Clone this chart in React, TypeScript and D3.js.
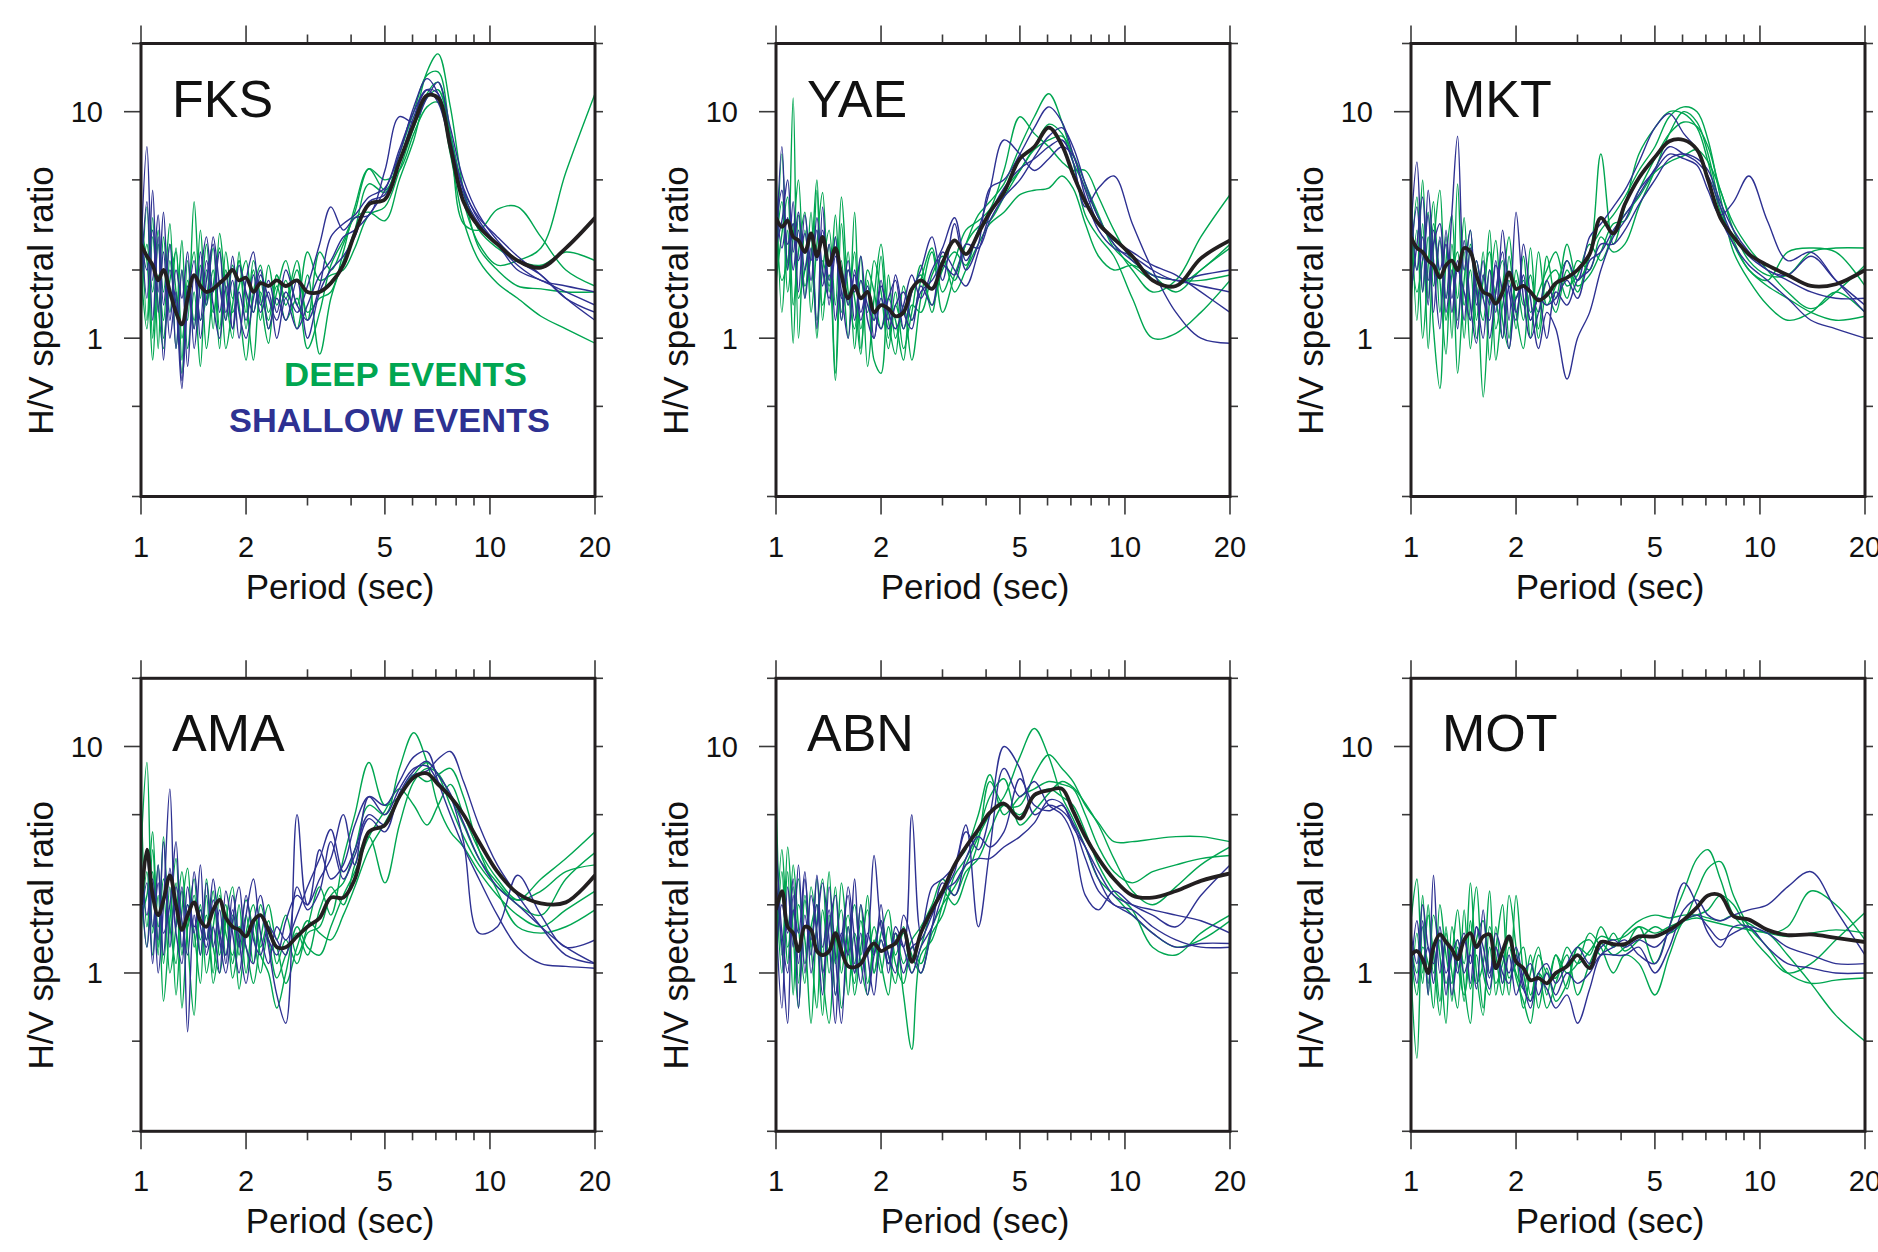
import React from 'react';
import * as d3 from 'd3';

// Shared period grid (sec) on which every curve is sampled
const PERIODS = [
  1.0, 1.04, 1.08, 1.12, 1.16, 1.21, 1.26, 1.31, 1.36, 1.42, 1.48, 1.54, 1.61, 1.68, 1.75, 1.83, 1.91, 2.0, 2.1, 2.2, 2.32, 2.45,
  2.6, 2.8, 3.0, 3.25, 3.5, 3.8,
  4.1, 4.5, 5.0, 5.5, 6.05, 6.6, 7.1, 7.7, 8.4, 9.3, 10.5, 12.0, 14.0, 16.5, 20.0,
];

const X_MAJOR = [1, 2, 5, 10, 20];
const X_MINOR = [3, 4, 6, 7, 8, 9];
const Y_LABELED = [1, 10];
const Y_OTHER = [0.2, 0.5, 2, 5, 20];

const STATIONS = ['FKS', 'YAE', 'MKT', 'AMA', 'ABN', 'MOT'];
const LEGEND_LABELS = ['DEEP EVENTS', 'SHALLOW EVENTS'];

// ---------- FKS ----------
const FKS_MEAN = [
  2.6, 2.3, 2.1, 1.8, 2.0, 1.6, 1.3, 1.15, 1.5, 1.9, 1.7, 1.6, 1.65, 1.75, 1.85, 2.0, 1.8, 1.85, 1.6, 1.75, 1.7, 1.8,
  1.7, 1.8, 1.6, 1.6, 1.75, 2.1,
  2.9, 3.9, 4.1, 6.0, 8.8, 11.8, 11.5, 7.0, 4.0, 3.1, 2.6, 2.2, 2.05, 2.5, 3.4,
];
const FKS_DEEP = [
  [4.5, 1.2, 3.4, 0.9, 2.8, 1.3, 2.5, 0.8, 2.2, 1.1, 3.0, 1.4, 2.0, 0.9, 2.4, 1.5, 2.2, 1.3, 2.0, 1.2, 2.1, 1.4,
   1.8, 1.1, 1.9, 0.85, 1.5, 2.2,
   3.0, 4.8, 4.4, 6.5, 10.0, 14.5, 15.0, 8.0, 4.0, 2.6, 2.1, 2.2, 2.5, 5.4, 12.0],
  [1.5, 3.8, 1.0, 2.6, 1.6, 3.2, 0.9, 2.0, 1.2, 4.0, 1.5, 2.6, 1.1, 2.9, 1.6, 1.0, 2.4, 1.1, 2.2, 1.5, 0.95, 1.9,
   1.4, 2.0, 1.2, 2.4, 2.0, 2.6,
   3.6, 5.6, 4.5, 6.0, 9.0, 15.0, 18.0, 10.5, 4.5, 2.5, 2.0, 1.7, 1.65, 1.6, 1.6],
  [3.0, 2.2, 0.8, 1.9, 1.2, 2.6, 1.6, 0.7, 1.8, 1.2, 2.1, 0.9, 1.7, 2.5, 1.2, 2.1, 1.4, 0.8, 1.6, 2.1, 1.3, 1.7,
   1.2, 1.5, 0.9, 1.3, 2.1, 2.7,
   3.4, 3.6, 3.3, 5.0, 7.5, 12.0, 13.5, 7.5, 3.2, 3.0, 3.7, 3.8, 2.8, 2.0, 1.7],
  [2.0, 1.1, 2.8, 1.4, 0.9, 2.2, 1.3, 2.7, 0.9, 1.6, 0.75, 2.0, 1.3, 1.8, 0.9, 1.4, 2.2, 1.5, 0.8, 1.6, 1.2, 1.9,
   1.5, 2.2, 1.3, 1.5, 1.6, 2.4,
   3.8, 5.6, 5.0, 5.5, 8.0, 10.5, 11.0, 6.5, 3.3, 2.2, 1.75, 1.5, 1.25, 1.1, 0.95],
  [1.2, 2.6, 1.6, 3.0, 1.0, 1.8, 2.4, 1.0, 1.6, 2.4, 1.2, 1.5, 2.5, 1.1, 2.0, 1.3, 1.7, 2.2, 1.3, 1.8, 1.1, 1.6,
   2.2, 1.4, 2.4, 1.8, 1.9, 2.0,
   2.5, 3.5, 3.8, 5.5, 8.5, 11.5, 12.5, 8.0, 4.5, 3.0, 2.5, 2.2, 2.1, 2.4, 2.2],
];
const FKS_SHALLOW = [
  [2.4, 7.0, 1.8, 3.5, 1.4, 2.6, 0.9, 2.0, 0.75, 1.9, 1.2, 2.2, 1.4, 1.0, 1.7, 1.1, 2.1, 1.6, 1.3, 1.9, 1.5, 1.2,
   1.6, 1.3, 1.7, 2.6, 3.8, 3.0,
   3.4, 3.5, 5.5, 9.5, 9.0, 11.5, 13.5, 8.5, 5.0, 3.5, 2.7, 2.2, 1.9, 1.5, 1.2],
  [3.2, 1.5, 4.5, 1.3, 2.4, 1.0, 1.6, 0.65, 1.4, 2.2, 1.0, 1.8, 2.6, 1.3, 1.9, 1.1, 1.6, 1.2, 1.9, 1.3, 1.6, 1.0,
   1.5, 1.1, 1.4, 1.9, 2.2, 2.8,
   3.0, 3.5, 4.5, 6.5, 10.5, 14.0, 12.0, 7.0, 4.3, 3.2, 2.6, 2.0, 1.8, 1.6, 1.4],
  [1.8, 4.0, 1.2, 2.8, 0.8, 2.0, 1.4, 0.6, 1.7, 1.1, 2.4, 1.4, 2.8, 1.7, 1.2, 2.3, 1.3, 1.0, 1.5, 2.0, 1.1, 1.5,
   1.2, 1.8, 1.0, 1.6, 2.0, 2.3,
   2.8, 4.0, 4.3, 6.0, 9.5, 12.5, 12.0, 7.5, 4.5, 3.4, 2.8, 2.3, 1.9, 1.5, 1.3],
  [2.8, 2.0, 3.0, 1.6, 3.6, 1.2, 2.0, 1.5, 2.4, 0.9, 1.8, 2.8, 1.6, 2.4, 1.3, 1.8, 1.0, 1.8, 2.4, 1.4, 1.8, 1.3,
   2.0, 1.4, 1.2, 1.7, 2.8, 3.2,
   3.5, 4.2, 4.6, 6.8, 10.0, 12.5, 11.0, 7.2, 4.6, 3.3, 2.6, 2.1, 1.8, 1.7, 1.6],
];

// ---------- YAE ----------
const YAE_MEAN = [
  3.4, 3.1, 3.3, 2.8, 2.7, 2.4, 2.9, 2.3, 2.8, 2.1, 2.5, 1.9, 1.5, 1.7, 1.5, 1.6, 1.3, 1.4, 1.35, 1.25, 1.3, 1.65,
  1.8, 1.65, 2.15, 2.7, 2.35, 2.9,
  3.6, 4.4, 6.2, 7.0, 8.5, 7.1, 5.3, 4.0, 3.2, 2.75, 2.3, 1.8, 1.7, 2.25, 2.7,
];
const YAE_DEEP = [
  [1.5, 6.5, 2.0, 11.5, 1.0, 3.0, 1.6, 4.5, 1.2, 2.6, 0.7, 3.2, 1.4, 2.4, 0.9, 1.8, 1.2, 2.3, 1.0, 1.6, 0.9, 1.3,
   2.1, 1.3, 2.2, 1.8, 2.6, 3.1,
   3.3, 4.2, 5.5, 7.0, 8.8, 8.0, 6.0, 4.6, 3.4, 2.6, 2.0, 1.6, 1.8, 2.8, 4.3],
  [6.0, 1.3, 3.0, 0.95, 3.5, 1.7, 2.3, 5.0, 1.4, 1.9, 0.65, 2.2, 1.0, 3.6, 1.1, 1.6, 0.8, 0.7, 1.9, 1.0, 1.4, 0.8,
   1.5, 2.4, 1.3, 1.9, 2.6, 3.5,
   4.0, 4.8, 7.0, 9.5, 12.0, 9.0, 6.0, 3.5, 2.8, 2.3, 1.5, 1.0, 1.05, 1.3, 1.8],
  [2.5, 4.0, 1.6, 2.8, 5.0, 1.5, 3.6, 1.2, 2.0, 3.0, 1.4, 4.2, 1.6, 1.1, 2.3, 0.75, 1.5, 2.6, 1.2, 0.85, 1.7, 1.2,
   1.8, 2.5, 1.6, 2.2, 3.0, 3.3,
   3.7, 5.5, 9.5, 8.0, 7.0, 6.0, 5.5, 5.5, 4.2, 3.0, 2.2, 1.9, 1.6, 2.0, 2.5],
  [1.8, 2.9, 4.2, 1.4, 2.4, 3.6, 1.3, 2.6, 4.4, 1.6, 2.8, 1.2, 2.0, 1.5, 0.85, 2.0, 1.6, 1.1, 1.5, 1.2, 0.8, 1.4,
   1.3, 1.9, 2.3, 1.6, 2.0, 2.6,
   3.2, 3.6, 4.3, 4.5, 4.6, 5.2, 4.6, 3.2, 2.3, 2.0, 2.1, 1.9, 1.8, 1.8, 1.9],
  [3.0, 1.8, 2.2, 3.2, 1.5, 2.0, 2.8, 1.0, 2.2, 1.7, 3.5, 1.3, 2.4, 0.9, 1.8, 1.3, 2.2, 1.6, 0.9, 1.4, 1.1, 1.6,
   1.9, 1.4, 2.0, 2.4, 2.1, 3.0,
   3.5, 4.5, 5.5, 6.8, 7.5, 7.8, 6.5, 4.8, 3.5, 2.5, 2.1, 1.8, 1.7, 2.0, 2.6],
];
const YAE_SHALLOW = [
  [2.2, 7.0, 2.0, 4.0, 1.6, 3.5, 2.2, 3.0, 1.7, 2.6, 1.2, 2.0, 1.4, 1.9, 1.2, 1.6, 1.3, 1.1, 1.5, 1.8, 1.1, 1.6,
   2.0, 2.8, 1.8, 3.2, 2.0, 2.6,
   4.6, 5.0, 6.5, 8.5, 10.5, 9.0, 6.5, 4.5, 3.2, 2.7, 2.4, 2.1, 1.9, 1.6, 1.3],
  [4.5, 2.5, 3.4, 2.0, 3.0, 1.5, 2.5, 1.1, 3.8, 1.4, 2.3, 1.6, 1.0, 2.0, 1.3, 1.7, 1.0, 1.5, 1.2, 1.9, 1.3, 1.1,
   1.7, 1.4, 2.4, 2.0, 1.7, 2.4,
   3.5, 4.6, 5.6, 6.2, 7.0, 7.5, 6.0, 3.8, 4.6, 5.2, 3.2, 2.0, 1.3, 1.0, 0.95],
  [3.0, 4.5, 2.6, 3.2, 2.2, 2.9, 1.8, 3.4, 2.0, 1.5, 2.8, 1.2, 2.0, 1.6, 2.3, 1.2, 1.0, 1.7, 1.3, 1.1, 1.4, 1.9,
   1.5, 2.0, 2.5, 3.4, 2.2, 3.0,
   4.5, 7.5, 6.5, 5.5, 6.2, 7.0, 6.4, 4.2, 3.0, 2.5, 2.3, 2.0, 1.8, 1.9, 2.0],
  [2.6, 3.3, 5.0, 2.4, 3.6, 2.0, 2.8, 2.2, 3.0, 1.8, 2.4, 1.5, 2.2, 1.2, 1.8, 1.4, 1.2, 1.8, 1.1, 1.4, 1.6, 1.2,
   1.6, 1.8, 2.1, 1.9, 2.6, 2.5,
   3.3, 4.2, 5.0, 6.3, 7.8, 8.5, 7.0, 4.8, 3.4, 2.6, 2.2, 1.9, 1.8, 1.7, 1.6],
];

// ---------- MKT ----------
const MKT_MEAN = [
  2.8, 2.5, 2.4, 2.2, 2.1, 1.85, 2.1, 2.2, 2.0, 2.5, 2.4, 1.9, 1.6, 1.55, 1.42, 1.6, 1.95, 1.65, 1.7, 1.6, 1.47, 1.55,
  1.75, 1.85, 2.0, 2.35, 3.4, 2.9,
  3.9, 5.1, 6.3, 7.4, 7.5, 6.8, 5.0, 3.4, 2.8, 2.35, 2.1, 1.9, 1.7, 1.73, 2.0,
];
const MKT_DEEP = [
  [5.0, 1.2, 3.2, 0.9, 2.5, 4.5, 1.5, 2.2, 0.7, 1.8, 3.0, 1.2, 2.4, 0.8, 1.6, 2.2, 1.0, 1.8, 1.2, 2.5, 1.0, 1.6,
   1.3, 2.0, 1.6, 2.4, 3.0, 3.5,
   4.2, 5.5, 7.0, 9.5, 10.5, 10.0, 7.5, 4.2, 2.4, 1.8, 1.4, 1.2, 1.3, 1.6, 1.3],
  [2.0, 4.2, 1.6, 2.8, 1.1, 0.6, 2.2, 3.5, 1.2, 2.4, 0.9, 1.7, 0.55, 1.5, 2.7, 1.2, 0.9, 2.0, 1.4, 1.9, 1.1, 2.3,
   1.5, 2.6, 1.8, 2.3, 6.5, 2.6,
   3.8, 6.5, 8.5, 10.0, 9.8, 8.5, 6.0, 3.6, 2.7, 2.0, 1.8, 2.4, 2.5, 2.4, 1.7],
  [3.5, 2.0, 5.0, 1.5, 3.2, 1.8, 0.85, 2.6, 1.5, 3.4, 1.2, 2.2, 1.5, 3.0, 1.1, 1.7, 2.8, 1.3, 0.9, 1.6, 1.3, 1.8,
   2.0, 1.5, 2.2, 2.0, 2.8, 2.4,
   2.6, 3.8, 5.5, 8.0, 10.0, 9.0, 6.5, 3.8, 2.6, 2.0, 1.7, 1.5, 1.3, 1.2, 1.25],
  [1.4, 3.0, 1.0, 2.1, 4.0, 1.3, 2.8, 1.0, 4.8, 1.4, 2.0, 1.0, 1.8, 2.4, 0.8, 1.4, 1.8, 1.1, 2.3, 1.3, 1.6, 2.0,
   2.4, 1.7, 1.9, 2.6, 2.2, 2.9,
   3.5, 4.2, 5.4, 6.0, 6.4, 6.8, 6.0, 4.5, 3.0, 2.2, 1.9, 1.9, 2.4, 2.5, 2.5],
  [2.6, 1.6, 2.2, 3.6, 1.7, 2.7, 1.2, 1.9, 2.4, 1.0, 2.6, 1.7, 1.2, 2.0, 1.5, 1.0, 2.3, 1.5, 1.8, 1.0, 2.4, 1.4,
   1.7, 2.2, 1.7, 1.9, 2.4, 3.2,
   3.3, 4.5, 6.2, 8.0, 9.0, 8.6, 7.0, 4.5, 3.2, 2.5, 2.0, 1.6, 1.35, 1.6, 2.1],
];
const MKT_SHALLOW = [
  [3.0, 6.0, 2.2, 3.5, 1.3, 2.8, 1.5, 3.6, 7.8, 2.0, 3.0, 1.4, 2.2, 1.0, 1.6, 2.4, 1.2, 3.6, 1.5, 1.0, 1.3, 1.8,
   1.4, 2.2, 1.8, 2.8, 3.2, 3.8,
   4.5, 6.0, 8.5, 9.8, 8.0, 6.8, 5.0, 3.4, 2.6, 2.1, 1.8, 1.5, 1.2, 1.1, 1.0],
  [2.4, 3.8, 1.6, 4.5, 2.2, 1.1, 3.0, 1.5, 2.2, 1.2, 2.5, 1.6, 1.0, 2.0, 1.3, 3.0, 1.6, 1.2, 2.6, 1.5, 0.9, 1.3,
   1.1, 0.66, 1.0, 1.3, 2.0, 2.8,
   3.3, 4.5, 5.5, 6.5, 6.2, 5.8, 4.5, 3.5, 4.0, 5.2, 3.3, 2.2, 2.4, 1.8, 1.3],
  [1.6, 2.6, 4.2, 1.8, 2.6, 3.2, 1.3, 2.0, 1.1, 2.7, 1.4, 0.95, 1.9, 1.4, 2.2, 1.0, 1.7, 1.3, 1.9, 1.2, 1.5, 1.4,
   1.5, 1.8, 1.5, 2.2, 2.4, 3.0,
   3.5, 4.3, 5.6, 7.0, 6.5, 6.0, 5.2, 3.8, 2.8, 2.3, 2.0, 1.8, 1.6, 1.5, 1.5],
  [4.2, 2.0, 2.8, 1.4, 3.0, 2.0, 2.6, 1.3, 2.0, 1.6, 1.2, 2.2, 1.5, 1.2, 2.1, 1.6, 0.9, 1.5, 1.7, 1.2, 1.5, 1.0,
   1.6, 1.4, 1.8, 2.0, 2.6, 2.6,
   3.0, 3.9, 5.0, 6.2, 6.5, 6.2, 5.5, 4.0, 3.0, 2.4, 2.0, 1.9, 2.3, 1.8, 1.4],
];

// ---------- AMA ----------
const AMA_MEAN = [
  2.0, 3.5, 2.2, 1.8, 2.1, 2.7, 2.0, 1.55, 1.8, 2.05, 1.7, 1.6, 1.9, 2.1, 1.75, 1.6, 1.55, 1.45, 1.7, 1.8, 1.55, 1.3,
  1.3, 1.45, 1.6, 1.75, 2.15, 2.15,
  2.6, 4.2, 4.5, 6.0, 7.3, 7.6, 6.8, 6.0, 5.0, 3.8, 2.8, 2.25, 2.03, 2.05, 2.7,
];
const AMA_DEEP = [
  [3.5, 8.5, 1.5, 3.0, 1.1, 2.4, 0.8, 1.9, 2.9, 1.3, 2.0, 1.0, 1.6, 2.4, 1.2, 1.8, 0.85, 1.5, 2.0, 1.3, 1.7, 1.1,
   1.4, 1.1, 1.5, 1.6, 2.2, 2.5,
   3.5, 5.5, 5.0, 8.0, 11.5, 8.5, 5.5, 4.2, 3.6, 2.8, 2.2, 1.8, 1.6, 1.9, 2.3],
  [6.5, 1.6, 2.8, 1.2, 4.0, 1.5, 2.5, 0.7, 1.6, 2.6, 1.2, 2.2, 0.9, 1.4, 2.0, 1.1, 1.6, 1.3, 0.9, 1.4, 2.0, 1.4,
   1.8, 1.2, 1.6, 2.4, 1.8, 3.2,
   5.0, 8.5, 5.5, 6.0, 7.5, 8.5, 7.5, 5.5, 4.0, 3.0, 2.4, 2.1, 2.6, 3.2, 4.2],
  [1.5, 2.8, 1.2, 2.2, 0.75, 1.7, 3.2, 1.2, 2.0, 1.5, 0.9, 2.6, 1.3, 1.0, 1.7, 2.4, 1.2, 1.8, 1.1, 2.0, 1.4, 0.95,
   1.2, 1.5, 1.2, 1.9, 2.4, 2.0,
   3.0, 4.0, 2.5, 4.5, 7.0, 8.0, 7.6, 6.0, 4.5, 3.2, 2.5, 2.0, 1.8, 2.6, 3.4],
  [2.4, 1.3, 3.5, 1.6, 2.2, 1.0, 1.6, 2.8, 1.4, 0.65, 1.9, 1.4, 2.3, 1.2, 1.8, 0.95, 1.4, 2.1, 1.5, 1.0, 1.5, 1.3,
   0.9, 1.3, 1.7, 1.5, 1.4, 1.8,
   2.4, 3.5, 4.6, 6.0, 7.5, 7.0, 7.5, 8.0, 6.0, 3.5, 2.3, 1.6, 1.5, 1.6, 1.9],
  [1.8, 2.2, 4.2, 1.3, 2.6, 1.6, 1.1, 2.3, 1.6, 2.2, 1.4, 1.8, 1.0, 2.2, 1.5, 1.2, 2.0, 1.0, 1.7, 1.2, 1.0, 0.7,
   1.0, 1.6, 1.3, 1.2, 1.6, 2.2,
   2.8, 4.0, 5.2, 6.5, 5.5, 4.5, 5.5, 6.8, 5.0, 3.5, 2.6, 2.1, 2.3, 2.8, 3.0],
];
const AMA_SHALLOW = [
  [2.8, 1.3, 2.4, 1.0, 2.0, 6.5, 1.6, 2.4, 0.55, 1.8, 1.2, 2.5, 1.3, 1.9, 1.1, 2.2, 1.4, 0.9, 1.6, 2.2, 1.3, 0.8,
   0.6, 5.0, 2.0, 2.6, 3.2, 5.0,
   3.0, 6.0, 5.5, 7.0, 9.0, 9.5, 7.0, 5.0, 3.6, 2.6, 1.8, 1.3, 1.1, 1.07, 1.05],
  [1.7, 2.5, 1.1, 3.0, 1.5, 2.0, 3.8, 1.3, 2.0, 1.5, 3.0, 1.2, 1.6, 1.0, 2.3, 1.5, 1.0, 1.8, 2.6, 1.5, 1.1, 1.6,
   1.4, 1.8, 2.4, 3.2, 4.3, 2.8,
   3.5, 5.0, 4.5, 6.0, 7.5, 7.8, 8.8, 9.5, 7.0, 4.5, 3.0, 2.2, 1.6, 1.2, 1.1],
  [3.2, 1.8, 2.6, 1.4, 3.8, 1.3, 2.4, 1.7, 1.2, 2.8, 1.6, 1.3, 2.1, 1.4, 1.0, 1.7, 2.4, 1.3, 1.1, 1.8, 1.4, 1.2,
   1.7, 2.2, 2.0, 3.5, 2.6, 3.0,
   4.5, 6.0, 5.0, 6.5, 8.0, 8.2, 7.0, 6.0, 3.8, 1.5, 1.6, 2.7, 1.8, 1.3, 1.4],
  [2.2, 3.2, 1.6, 2.5, 1.2, 2.9, 1.5, 1.1, 2.4, 1.6, 1.9, 1.4, 2.6, 1.5, 1.2, 1.9, 1.3, 2.2, 1.4, 1.2, 1.6, 1.4,
   1.2, 2.4, 1.9, 2.3, 3.8, 2.6,
   3.3, 4.8, 4.2, 6.2, 7.8, 8.6, 7.5, 6.2, 4.6, 3.2, 2.4, 2.0, 1.6, 1.3, 1.1],
];

// ---------- ABN ----------
const ABN_MEAN = [
  1.9, 2.3, 1.6, 1.5, 1.25, 1.6, 1.55, 1.25, 1.2, 1.25, 1.5, 1.25, 1.07, 1.06, 1.1, 1.25, 1.35, 1.25, 1.3, 1.35, 1.55, 1.12,
  1.5, 1.9, 2.3, 3.0, 3.6, 4.3,
  5.1, 5.6, 4.8, 6.1, 6.4, 6.5, 5.2, 4.0, 3.2, 2.6, 2.2, 2.15, 2.3, 2.55, 2.75,
];
const ABN_DEEP = [
  [6.5, 1.2, 2.8, 0.8, 2.0, 1.4, 0.6, 1.7, 2.6, 1.0, 1.5, 0.7, 1.3, 2.0, 1.1, 0.8, 1.4, 1.0, 1.6, 1.1, 0.9, 1.3,
   1.1, 1.6, 2.0, 2.4, 3.0, 4.0,
   5.0, 6.0, 9.0, 12.0, 9.0, 6.0, 4.8, 3.6, 2.6, 2.2, 1.8, 1.5, 1.3, 1.4, 1.7],
  [1.2, 3.5, 1.6, 2.4, 0.9, 2.2, 1.3, 0.7, 1.9, 1.2, 2.4, 1.0, 1.6, 0.8, 1.3, 1.9, 1.0, 1.5, 1.9, 1.2, 1.5, 1.0,
   1.3, 1.9, 2.3, 2.0, 2.6, 3.8,
   7.0, 5.5, 5.5, 7.5, 9.2, 8.0, 7.0, 5.5, 4.6, 3.8, 3.8, 3.9, 4.0, 4.0, 3.8],
  [2.6, 1.0, 3.6, 1.5, 0.7, 2.1, 1.3, 2.6, 1.0, 0.6, 1.4, 1.9, 0.8, 1.5, 1.2, 2.2, 1.0, 1.4, 1.1, 1.5, 0.8, 0.46,
   1.2, 1.4, 2.0, 3.0, 3.5, 5.0,
   7.5, 5.0, 6.0, 6.5, 7.0, 6.8, 6.5, 5.0, 3.6, 2.8, 2.5, 2.8, 3.0, 3.2, 3.3],
  [1.6, 2.2, 1.1, 3.0, 1.6, 0.9, 2.4, 1.5, 0.65, 1.8, 1.1, 2.5, 1.3, 0.9, 1.7, 1.2, 1.6, 1.1, 0.8, 1.5, 1.1, 1.4,
   1.6, 2.0, 2.6, 2.2, 2.8, 3.2,
   4.2, 5.5, 5.0, 6.0, 6.5, 6.0, 5.5, 4.2, 3.0, 2.3, 1.9, 1.3, 1.2, 1.5, 1.8],
  [0.9, 2.8, 1.3, 1.8, 2.6, 1.1, 1.6, 2.0, 1.2, 2.8, 0.8, 1.3, 1.8, 1.1, 2.0, 0.9, 1.3, 1.7, 1.2, 0.9, 1.6, 1.2,
   1.0, 1.5, 1.8, 2.7, 3.2, 4.2,
   6.0, 7.2, 4.5, 5.2, 6.2, 7.0, 6.6, 5.6, 4.5, 3.2, 2.3, 2.0, 2.4, 3.0, 3.6],
];
const ABN_SHALLOW = [
  [1.8, 0.7, 2.4, 1.3, 3.0, 1.0, 2.2, 1.5, 0.8, 2.4, 1.2, 0.6, 1.6, 1.0, 2.0, 1.2, 0.8, 1.4, 1.1, 1.6, 1.3, 1.0,
   1.3, 1.6, 2.2, 2.8, 4.2, 3.5,
   5.0, 10.0, 8.0, 5.0, 5.5, 5.2, 4.5, 3.2, 2.3, 2.0, 1.8, 1.5, 1.3, 1.35, 1.35],
  [4.0, 1.5, 1.0, 2.2, 1.1, 2.6, 1.4, 2.0, 1.0, 1.6, 2.2, 1.2, 2.4, 1.4, 0.9, 1.5, 1.2, 2.0, 1.0, 1.5, 1.3, 5.0,
   1.5, 2.4, 2.6, 3.0, 4.5, 1.6,
   3.5, 8.0, 6.0, 7.0, 5.5, 5.0, 4.0, 2.2, 1.9, 2.3, 2.0, 1.8, 1.6, 2.2, 3.0],
  [2.6, 1.3, 0.6, 1.9, 1.5, 2.8, 1.0, 1.6, 2.5, 1.4, 0.6, 1.5, 1.2, 2.6, 1.1, 1.4, 3.3, 1.6, 1.2, 1.0, 1.8, 1.4,
   1.0, 1.6, 2.5, 2.2, 3.2, 4.0,
   3.6, 4.2, 7.2, 5.5, 5.2, 5.5, 4.6, 3.6, 2.6, 2.0, 1.9, 1.6, 1.4, 1.3, 1.3],
  [1.2, 2.0, 1.5, 2.6, 0.7, 1.8, 1.2, 2.7, 1.3, 1.9, 0.8, 1.4, 2.2, 1.0, 1.5, 0.8, 1.2, 1.7, 1.1, 1.4, 1.0, 1.3,
   1.4, 1.8, 2.3, 2.5, 3.0, 3.2,
   3.2, 3.6, 4.0, 4.6, 5.8, 5.6, 4.4, 3.6, 2.8, 2.2, 2.0, 1.9, 1.8, 1.7, 1.5],
];

// ---------- MOT ----------
const MOT_MEAN = [
  1.2, 1.25, 1.15, 1.0, 1.3, 1.48, 1.37, 1.27, 1.15, 1.4, 1.5, 1.3, 1.45, 1.48, 1.05, 1.25, 1.45, 1.12, 1.05, 0.93, 0.95, 0.9,
  1.0, 1.07, 1.2, 1.05, 1.37, 1.34,
  1.34, 1.45, 1.45, 1.55, 1.72, 1.95, 2.2, 2.2, 1.78, 1.72, 1.55, 1.47, 1.48, 1.43, 1.37,
];
const MOT_DEEP = [
  [1.0, 0.42, 1.6, 0.9, 1.3, 0.75, 1.5, 1.0, 0.7, 1.9, 0.85, 1.2, 0.7, 1.3, 0.9, 1.1, 1.4, 0.95, 0.75, 0.6, 1.0, 0.7,
   0.9, 1.2, 0.8, 1.1, 1.35, 1.2,
   1.3, 1.6, 1.1, 1.6, 2.3, 3.2, 3.5, 2.6, 1.8, 1.55, 1.5, 1.2, 0.9, 0.65, 0.5],
  [1.7, 2.6, 1.0, 1.8, 1.2, 0.65, 1.6, 0.75, 1.4, 1.1, 2.5, 1.0, 0.65, 1.6, 1.2, 0.8, 1.3, 1.0, 0.85, 1.2, 0.7, 1.05,
   0.75, 0.9, 1.3, 1.4, 1.2, 1.5,
   1.25, 1.4, 1.6, 1.5, 1.7, 2.3, 2.9, 3.1, 2.2, 1.6, 1.3, 1.0, 0.9, 0.93, 0.95],
  [1.3, 1.0, 2.2, 0.8, 1.8, 1.2, 0.6, 1.6, 1.1, 0.8, 1.3, 2.4, 1.0, 0.8, 1.6, 0.9, 2.2, 1.3, 0.7, 1.0, 1.3, 0.8,
   1.2, 0.85, 1.3, 1.2, 1.6, 1.3,
   1.5, 1.7, 1.8, 1.75, 1.8, 1.8, 1.75, 1.7, 1.8, 1.65, 1.5, 1.6, 2.3, 2.0, 1.4],
  [0.7, 1.5, 0.9, 2.0, 1.0, 1.4, 0.9, 1.2, 1.9, 0.9, 0.6, 1.4, 1.7, 1.0, 1.3, 2.0, 0.95, 1.1, 1.3, 0.8, 1.0, 0.9,
   1.2, 1.0, 1.1, 1.5, 1.3, 1.0,
   1.2, 1.1, 0.8, 1.2, 1.7, 1.8, 1.9, 2.2, 2.0, 1.5, 1.2, 1.0, 1.1, 1.4, 1.85],
  [1.2, 0.8, 1.3, 1.1, 0.7, 2.0, 1.2, 0.9, 1.3, 0.75, 1.7, 0.9, 1.1, 2.3, 0.8, 1.2, 0.8, 2.2, 1.0, 0.75, 1.2, 1.0,
   0.95, 1.3, 1.1, 1.25, 1.45, 1.4,
   1.45, 1.6, 1.5, 1.6, 1.7, 1.75, 1.7, 1.65, 1.6, 1.55, 1.5, 1.45, 1.5, 1.55, 1.5],
];
const MOT_SHALLOW = [
  [1.3, 0.9, 1.7, 0.8, 2.7, 1.0, 1.4, 0.8, 1.2, 1.5, 0.9, 1.6, 1.1, 0.85, 1.3, 1.0, 0.9, 1.2, 0.85, 0.75, 0.95, 0.85,
   0.7, 0.8, 0.6, 0.85, 1.2, 1.3,
   1.4, 1.2, 1.1, 1.6, 2.5, 2.0, 1.5, 1.3, 1.6, 1.6, 1.3, 1.1, 1.05, 1.0, 1.0],
  [1.0, 1.7, 1.1, 1.3, 0.9, 1.6, 1.0, 1.2, 1.4, 1.0, 1.2, 0.85, 1.9, 1.0, 1.3, 0.9, 1.2, 0.8, 1.0, 1.1, 0.8, 1.0,
   0.8, 1.0, 0.9, 1.0, 1.2, 1.2,
   1.2, 1.3, 1.0, 1.3, 1.9, 2.1, 1.8, 1.7, 1.8, 1.9, 2.0, 2.4, 2.8, 1.9, 1.2],
  [1.5, 1.1, 2.0, 1.3, 1.1, 1.5, 0.8, 1.3, 1.0, 1.4, 1.1, 1.6, 1.3, 0.95, 1.5, 1.2, 1.0, 1.3, 0.9, 0.7, 1.0, 1.1,
   0.9, 1.1, 1.3, 1.1, 1.3, 1.4,
   1.3, 1.4, 1.3, 1.5, 1.7, 1.8, 1.6, 1.4, 1.5, 1.6, 1.5, 1.3, 1.2, 1.1, 1.1],
];

const PANELS = [
  { name: STATIONS[0], mean: FKS_MEAN, deep: FKS_DEEP, shallow: FKS_SHALLOW, legend: true },
  { name: STATIONS[1], mean: YAE_MEAN, deep: YAE_DEEP, shallow: YAE_SHALLOW, legend: false },
  { name: STATIONS[2], mean: MKT_MEAN, deep: MKT_DEEP, shallow: MKT_SHALLOW, legend: false },
  { name: STATIONS[3], mean: AMA_MEAN, deep: AMA_DEEP, shallow: AMA_SHALLOW, legend: false },
  { name: STATIONS[4], mean: ABN_MEAN, deep: ABN_DEEP, shallow: ABN_SHALLOW, legend: false },
  { name: STATIONS[5], mean: MOT_MEAN, deep: MOT_DEEP, shallow: MOT_SHALLOW, legend: false },
];

// ---------- layout / style ----------
const W = 1878;
const H = 1252;
const PW = 454;
const PH = 453;
const COL_X = [141, 776, 1411];
const ROW_Y = [43.5, 678.3];
const GREEN = '#00a651';
const BLUE = '#2e3192';
const BLACK = '#231f20';
const FONT = '"Liberation Sans", Arial, Helvetica, sans-serif';

type PanelProps = {
  idx: number;
  name: string;
  mean: number[];
  deep: number[][];
  shallow: number[][];
  legend: boolean;
  left: number;
  top: number;
};

function Panel({ idx, name, mean, deep, shallow, legend, left, top }: PanelProps) {
  const x = d3.scaleLog().domain([1, 20]).range([left, left + PW]);
  const y = d3.scaleLog().domain([0.2, 20]).range([top + PH, top]);
  const bottom = top + PH;
  const right = left + PW;
  const line = d3
    .line<number>()
    .x((_, i) => x(PERIODS[i]))
    .y((v) => y(v))
    .curve(d3.curveCatmullRom.alpha(0.5));
  const clipId = `clip-${idx}`;
  const tickStroke = '#3a3a3a';
  return (
    <g>
      <defs>
        <clipPath id={clipId}>
          <rect x={left} y={top} width={PW} height={PH} />
        </clipPath>
      </defs>
      <g clipPath={`url(#${clipId})`} fill="none" strokeLinejoin="round">
        {deep.map((s, i) => (
          <path key={`d${i}`} d={line(s.slice(0, PERIODS.length)) || ''} stroke={GREEN} strokeWidth={1.4} />
        ))}
        {shallow.map((s, i) => (
          <path key={`s${i}`} d={line(s.slice(0, PERIODS.length)) || ''} stroke={BLUE} strokeWidth={1.4} />
        ))}
        <path d={line(mean.slice(0, PERIODS.length)) || ''} stroke={BLACK} strokeWidth={3.8} />
      </g>
      <g stroke={tickStroke} strokeWidth={1.6}>
        {X_MAJOR.map((t) => (
          <g key={`xm${t}`}>
            <line x1={x(t)} x2={x(t)} y1={top} y2={top - 18} />
            <line x1={x(t)} x2={x(t)} y1={bottom} y2={bottom + 18} />
          </g>
        ))}
        {X_MINOR.map((t) => (
          <g key={`xn${t}`}>
            <line x1={x(t)} x2={x(t)} y1={top} y2={top - 9} />
            <line x1={x(t)} x2={x(t)} y1={bottom} y2={bottom + 9} />
          </g>
        ))}
        {Y_LABELED.map((t) => (
          <g key={`ym${t}`}>
            <line x1={left} x2={left - 17} y1={y(t)} y2={y(t)} />
            <line x1={right} x2={right + 8} y1={y(t)} y2={y(t)} />
          </g>
        ))}
        {Y_OTHER.map((t) => (
          <g key={`yn${t}`}>
            <line x1={left} x2={left - 9} y1={y(t)} y2={y(t)} />
            <line x1={right} x2={right + 8} y1={y(t)} y2={y(t)} />
          </g>
        ))}
      </g>
      <rect x={left} y={top} width={PW} height={PH} fill="none" stroke={BLACK} strokeWidth={3} />
      <g fontFamily={FONT} fontSize={29} fill="#111">
        {X_MAJOR.map((t) => (
          <text key={`xl${t}`} x={x(t)} y={bottom + 60} textAnchor="middle">
            {t}
          </text>
        ))}
        {Y_LABELED.map((t) => (
          <text key={`yl${t}`} x={left - 38} y={y(t)} dy="0.36em" textAnchor="end">
            {t}
          </text>
        ))}
      </g>
      <text x={left + 199} y={bottom + 102} textAnchor="middle" fontFamily={FONT} fontSize={35} fill="#111">
        Period (sec)
      </text>
      <text
        x={left - 88}
        y={top + 257}
        transform={`rotate(-90, ${left - 88}, ${top + 257})`}
        textAnchor="middle"
        fontFamily={FONT}
        fontSize={35}
        fill="#111"
      >
        H/V spectral ratio
      </text>
      <text x={left + 31} y={top + 73} fontFamily={FONT} fontSize={52} fill="#111">
        {name}
      </text>
      {legend && (
        <g fontFamily={FONT} fontSize={33} fontWeight="bold">
          <text x={left + 143} y={top + 342} fill={GREEN} textLength={243} lengthAdjust="spacingAndGlyphs">
            {LEGEND_LABELS[0]}
          </text>
          <text x={left + 88} y={top + 388} fill={BLUE} textLength={321} lengthAdjust="spacingAndGlyphs">
            {LEGEND_LABELS[1]}
          </text>
        </g>
      )}
    </g>
  );
}

export default function App() {
  return (
    <svg
      width={W}
      height={H}
      viewBox={`0 0 ${W} ${H}`}
      style={{ position: 'absolute', left: 0, top: 0, background: '#fff', display: 'block' }}
    >
      <rect x={0} y={0} width={W} height={H} fill="#fff" />
      {PANELS.map((p, i) => (
        <Panel
          key={p.name}
          idx={i}
          name={p.name}
          mean={p.mean}
          deep={p.deep}
          shallow={p.shallow}
          legend={p.legend}
          left={COL_X[i % 3]}
          top={ROW_Y[Math.floor(i / 3)]}
        />
      ))}
    </svg>
  );
}
